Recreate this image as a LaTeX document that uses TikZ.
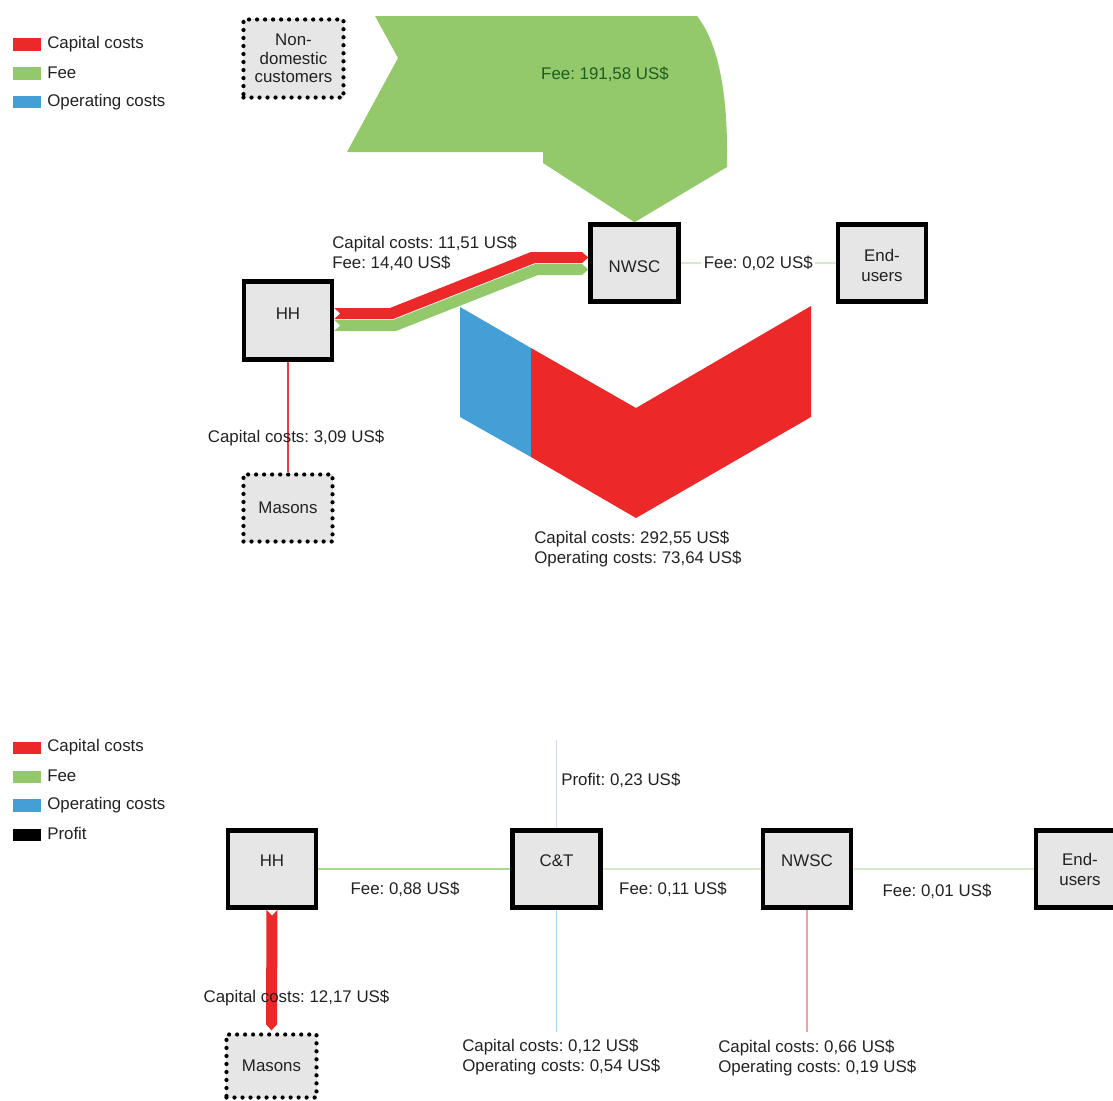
\documentclass[tikz,border=0pt]{standalone}
\usepackage{fontspec}
\setmainfont{Liberation Sans}
\usetikzlibrary{calc}
\frenchspacing
\definecolor{cred}{HTML}{EC2828}
\definecolor{cgreen}{HTML}{93C96A}
\definecolor{cblue}{HTML}{449FD6}
\definecolor{cbox}{HTML}{E6E6E6}
\definecolor{ctext}{HTML}{222222}
\definecolor{cdkgreen}{HTML}{1E5C22}
\definecolor{cpalegreen}{HTML}{D4EBC6}
\definecolor{cmidgreen}{HTML}{A8D88C}
\definecolor{cpaleblue}{HTML}{A8D6F2}
\definecolor{cpink}{HTML}{E9A3AB}
\definecolor{cgrayline}{HTML}{D3DAE0}
\definecolor{cthinred}{HTML}{EE3A3A}
\begin{document}
\begin{tikzpicture}[x=0.025cm, y=-0.025cm,
  every node/.style={font=\fontsize{12}{14.2}\selectfont, text=ctext, inner sep=0pt},
  solidbox/.style={draw=black, line width=3.2pt, fill=cbox, minimum width=2.2cm, minimum height=1.925cm},
  dotbox/.style={draw=black, line width=3pt, fill=cbox, dash pattern=on 0pt off 5.7pt, line cap=round, align=center},
  inlab/.style={align=center},
  lab/.style={anchor=west, align=left},
]
\useasboundingbox (0,0) rectangle (1113,1100);

% ---------------- TOP DIAGRAM ----------------
% legend
\fill[cred]   (13,38) rectangle (41,51);
\fill[cgreen] (13,67) rectangle (41,80);
\fill[cblue]  (13,96) rectangle (41,108);
\node[lab] (lgA1) at (47,44)  {Capital costs};
\node[lab] (lgA2) at (47,73)  {Fee};
\node[lab] (lgA3) at (47,102) {Operating costs};

% nodes
\node[dotbox, minimum width=2.5cm, minimum height=1.95cm] (ndc) at (293.5,58.5) {Non-\\[-1pt]domestic\\[-1pt]customers};
\node[solidbox, label={[inlab, yshift=-0.1cm]center:NWSC}] (nwsc1) at (634.5,263) {};
\node[solidbox, label={[inlab, yshift=-0.05cm]center:End-\\users}] (end1) at (882,263) {};
\node[solidbox, minimum height=1.95cm, label={[inlab, yshift=0.18cm]center:HH}] (hh1) at (288,320.5) {};
\node[dotbox, minimum width=2.225cm, minimum height=1.675cm] (mas1) at (288,508) {Masons};

% big green fee arrow from non-domestic customers
\fill[cgreen] (375,16) -- (697,16) .. controls (716,40) and (727,85) .. (727,150)
  -- (727,167) -- (nwsc1.north) -- (543,163) -- (543,152) -- (347,152) -- (398,58) -- cycle;

% HH -> NWSC bands
\fill[cred] ($(hh1.east)+(0,-12.5)$) -- (390,308) -- (531,252) -- (582,252)
  -- ($(nwsc1.west)+(0,-5.5)$) -- (582,263) -- (535,263) -- (393,319)
  -- ($(hh1.east)+(0,-1.5)$) -- ($(hh1.east)+(6,-7)$) -- cycle;
\fill[cgreen] ($(hh1.east)+(0,-0.5)$) -- (393,320) -- (535,264) -- (582,264)
  -- ($(nwsc1.west)+(0,6.5)$) -- (582,275) -- (538,275) -- (396,331)
  -- ($(hh1.east)+(0,10.5)$) -- ($(hh1.east)+(6,5)$) -- cycle;

% capital / operating costs chevron
\fill[cblue] (460,307) -- (531,348) -- (531,457) -- (460,417) -- cycle;
\fill[cred] (531,348) -- (636,408) -- (811,306) -- (811,417) -- (636,518) -- (531,457) -- cycle;

% thin connectors
\draw[cpalegreen, line width=1pt] (nwsc1) -- node[fill=white, inner sep=2pt] (lA3) {Fee: 0,02 US\$} (end1);
\draw[cthinred, line width=2.1pt] (hh1) -- (mas1);

% labels
\node[lab] (lA1) at (332,253.5) {Capital costs: 11,51 US\$\\Fee: 14,40 US\$};
\node[text=cdkgreen] (lA2) at (605,74) {Fee: 191,58 US\$};
\node (lA4) at (296,438) {Capital costs: 3,09 US\$};
\node[lab] (lA5) at (534,549) {Capital costs: 292,55 US\$\\Operating costs: 73,64 US\$};

% ---------------- BOTTOM DIAGRAM ----------------
\fill[cred]   (13,742) rectangle (41,754);
\fill[cgreen] (13,771) rectangle (41,783);
\fill[cblue]  (13,799) rectangle (41,812);
\fill[black]  (13,829) rectangle (41,841);
\node[lab] (lgB1) at (47,747) {Capital costs};
\node[lab] (lgB2) at (47,776) {Fee};
\node[lab] (lgB3) at (47,805) {Operating costs};
\node[lab] (lgB4) at (47,833) {Profit};

\node[solidbox, label={[inlab, yshift=0.2cm]center:HH}] (hh2) at (272,869) {};
\node[solidbox, label={[inlab, yshift=0.2cm]center:C\&T}] (ct) at (556.5,869) {};
\node[solidbox, label={[inlab, yshift=0.2cm]center:NWSC}] (nwsc2) at (807,869) {};
\node[solidbox, label={[inlab, yshift=-0.02cm]center:End-\\users}] (end2) at (1080,869) {};
\node[dotbox, minimum width=2.25cm, minimum height=1.575cm] (mas2) at (271.5,1066) {Masons};

\coordinate (ptop) at (556.5,740);
\coordinate (ctb) at (556.5,1032);
\coordinate (nwb) at (807,1032);

% band HH -> Masons
\fill[cred] ($(hh2.south)+(-5.5,0)$) -- ($(hh2.south)+(0,6)$) -- ($(hh2.south)+(5.5,0)$)
  -- ($(mas2.north)+(5.5,-8)$) -- ($(mas2.north)+(0,-2)$) -- ($(mas2.north)+(-5.5,-8)$) -- cycle;

\draw[cmidgreen, line width=1.4pt] (hh2) -- (ct);
\draw[cpalegreen, line width=1pt] (ct) -- (nwsc2);
\draw[cpalegreen, line width=1pt] (nwsc2) -- (end2);
\draw[cgrayline, line width=1pt] (ct) -- (ptop);
\draw[cpaleblue, line width=1.1pt] (ct) -- (ctb);
\draw[cpink, line width=1.1pt] (nwsc2) -- (nwb);

\node[lab] (lB1) at (561,780) {Profit: 0,23 US\$};
\node (lB2) at (405,889) {Fee: 0,88 US\$};
\node (lB3) at (673,889) {Fee: 0,11 US\$};
\node (lB4) at (937,891) {Fee: 0,01 US\$};
\node (lB5) at (296.5,998) {Capital costs: 12,17 US\$};
\node[lab] (lB6) at (462,1057) {Capital costs: 0,12 US\$\\Operating costs: 0,54 US\$};
\node[lab] (lB7) at (718,1058) {Capital costs: 0,66 US\$\\Operating costs: 0,19 US\$};
\end{tikzpicture}
\end{document}
